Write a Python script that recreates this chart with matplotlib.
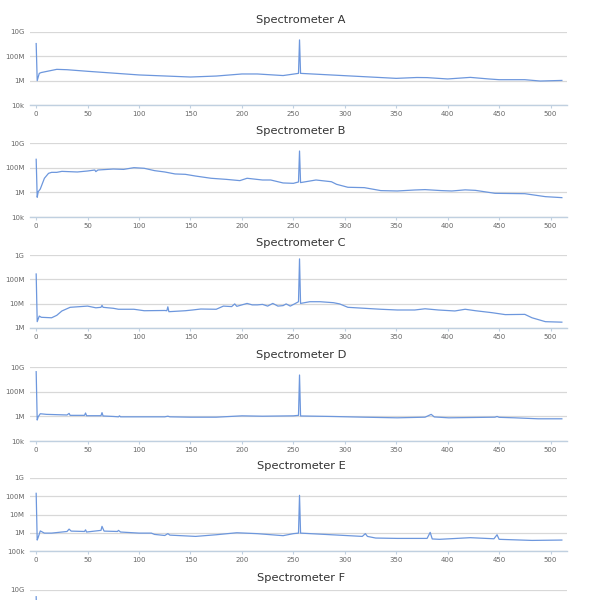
import numpy as np
import matplotlib
matplotlib.use("Agg")
import matplotlib.pyplot as plt

# channel / log10(count) knots, one pair of lists per spectrometer
a_x = [0, 1, 3, 5, 20, 30, 50, 65, 100, 150, 175, 200, 215, 240, 255, 256, 257,
       300, 350, 370, 380, 400, 422, 440, 450, 475, 490, 511]
a_y = [9.05, 6.0, 6.6, 6.67, 6.93, 6.9, 6.77, 6.68, 6.47, 6.30, 6.38, 6.55, 6.55, 6.42, 6.6, 9.35, 6.6,
       6.41, 6.19, 6.26, 6.25, 6.14, 6.27, 6.14, 6.08, 6.08, 5.97, 6.02]

b_x = [0, 1, 2, 4, 8, 12, 15, 20, 25, 40, 50, 57, 58, 60, 75, 85, 95, 105, 115, 125, 135, 145,
       155, 170, 185, 198, 205, 220, 228, 240, 250, 255, 256, 257, 272, 287, 292, 303, 319, 335,
       351, 368, 378, 394, 404, 417, 427, 446, 475, 495, 511]
b_y = [8.68, 5.6, 6.05, 6.27, 7.14, 7.54, 7.62, 7.62, 7.70, 7.65, 7.73, 7.81, 7.68, 7.81, 7.89, 7.86,
       8.0, 7.95, 7.76, 7.65, 7.49, 7.46, 7.32, 7.14, 7.05, 6.95, 7.14, 7.0, 7.0, 6.76, 6.73, 6.84,
       9.35, 6.79, 7.0, 6.86, 6.65, 6.41, 6.38, 6.14, 6.11, 6.19, 6.22, 6.14, 6.11, 6.2, 6.16, 5.92,
       5.89, 5.65, 5.57]

c_x = [0, 1, 3, 5, 15, 20, 25, 33, 50, 58, 63, 64, 65, 75, 80, 95, 105, 125, 127, 128, 129, 145,
       152, 160, 175, 182, 190, 193, 195, 205, 210, 215, 220, 225, 230, 235, 240, 243, 247, 252,
       255, 256, 257, 266, 276, 289, 295, 303, 319, 335, 351, 368, 378, 391, 407, 417, 427, 443,
       456, 475, 482, 495, 511]
c_y = [8.22, 6.26, 6.49, 6.44, 6.42, 6.52, 6.70, 6.85, 6.90, 6.83, 6.85, 6.93, 6.85, 6.81, 6.77,
       6.77, 6.71, 6.72, 6.71, 6.87, 6.67, 6.71, 6.74, 6.78, 6.77, 6.90, 6.88, 6.99, 6.89, 7.01,
       6.95, 6.95, 6.97, 6.9, 7.01, 6.9, 6.92, 6.99, 6.9, 7.01, 7.08, 8.84, 7.01, 7.08, 7.08, 7.04,
       6.99, 6.85, 6.81, 6.77, 6.74, 6.74, 6.79, 6.74, 6.70, 6.77, 6.71, 6.63, 6.55, 6.56, 6.42,
       6.26, 6.24]

d_x = [0, 1, 2, 4, 10, 30, 32, 33, 47, 48, 49, 63, 64, 65, 75, 80, 81, 82, 90, 125, 128, 130, 150,
       175, 200, 220, 250, 255, 256, 257, 287, 319, 351, 378, 384, 387, 401, 446, 448, 450, 465,
       488, 511]
d_y = [9.62, 5.70, 5.97, 6.21, 6.16, 6.11, 6.24, 6.08, 6.08, 6.27, 6.05, 6.05, 6.30, 6.03, 5.99,
       5.96, 6.04, 5.96, 5.96, 5.96, 6.01, 5.96, 5.93, 5.93, 6.04, 6.01, 6.04, 6.08, 9.35, 6.03,
       5.99, 5.93, 5.88, 5.93, 6.16, 5.95, 5.88, 5.93, 5.99, 5.92, 5.88, 5.80, 5.80]

e_x = [0, 1, 2, 4, 8, 15, 30, 32, 34, 47, 48, 49, 63, 64, 66, 79, 80, 82, 100, 112, 115, 125, 128,
       130, 155, 175, 195, 215, 240, 250, 255, 256, 257, 287, 317, 320, 322, 330, 351, 380, 383,
       385, 392, 422, 445, 448, 450, 482, 511]
e_y = [8.16, 5.60, 5.75, 6.10, 5.98, 5.98, 6.07, 6.20, 6.09, 6.07, 6.16, 6.04, 6.13, 6.35, 6.09,
       6.07, 6.13, 6.04, 5.98, 5.98, 5.91, 5.85, 5.95, 5.87, 5.80, 5.89, 6.00, 5.95, 5.84, 5.95,
       5.98, 8.05, 5.98, 5.89, 5.80, 5.95, 5.80, 5.71, 5.69, 5.69, 6.02, 5.66, 5.64, 5.73, 5.67,
       5.89, 5.64, 5.58, 5.60]

f_x = [0, 1, 4, 50, 100, 150, 200, 255, 256, 257, 300, 400, 511]
f_y = [9.45, 5.9, 6.1, 6.0, 5.9, 5.85, 5.95, 6.0, 8.6, 6.0, 5.9, 5.85, 5.75]

names = ["Spectrometer A", "Spectrometer B", "Spectrometer C",
         "Spectrometer D", "Spectrometer E", "Spectrometer F"]
series = [(a_x, a_y), (b_x, b_y), (c_x, c_y), (d_x, d_y), (e_x, e_y), (f_x, f_y)]
y_ranges = [(4, 10), (4, 10), (6, 9), (4, 10), (5, 9), (4, 10)]
y_steps = [2, 2, 1, 2, 1, 2]

# axes tops in pixels (figure is 601 x 600)
tops = [32, 143, 255, 367, 478, 590]
heights = [73, 74, 73, 74, 73, 73]

labels = {3: "1k", 4: "10k", 5: "100k", 6: "1M", 7: "10M", 8: "100M", 9: "1G", 10: "10G"}

line_color = "#6d97dd"
W, H = 601, 600
fig = plt.figure(figsize=(W / 100, H / 100), dpi=100)

for i in range(6):
    left, right = 30, 567
    ax = fig.add_axes([left / W, 1 - (tops[i] + heights[i]) / H, (right - left) / W, heights[i] / H])
    xs, ys = series[i]
    ax.plot(xs, 10.0 ** np.array(ys), color=line_color, lw=0.9)
    ax.set_yscale("log")
    lo, hi = y_ranges[i]
    ax.set_ylim(10.0 ** lo, 10.0 ** hi)
    ax.set_xlim(-6, 516)
    ticks = list(range(lo, hi + 1, y_steps[i]))
    ax.set_yticks([10.0 ** t for t in ticks])
    ax.minorticks_off()
    ax.set_xticks(range(0, 501, 50))
    ax.grid(axis="y", color="#d8d8d8", lw=0.9)
    ax.set_axisbelow(True)
    for s in ["top", "right", "left"]:
        ax.spines[s].set_visible(False)
    ax.spines["bottom"].set_color("#c0d0e0")
    ax.spines["bottom"].set_linewidth(1.0)
    ax.tick_params(axis="y", length=0, labelsize=5, labelcolor="#666666", pad=4)
    ax.tick_params(axis="x", length=2.5, width=0.8, color="#c0d0e0", labelsize=5,
                   labelcolor="#666666", pad=1.5)
    if i == 5:
        # last panel is cut off by the bottom edge: only the top label is in view
        ax.set_yticklabels([labels[t] if t == hi else "" for t in ticks])
        ax.set_xticklabels([])
    else:
        ax.set_yticklabels([labels[t] for t in ticks])
    fig.text(301 / W, 1 - (tops[i] - 12) / H, names[i], ha="center", va="center",
             fontsize=8.2, color="#333333")

fig.savefig("out.png", dpi=100, facecolor="white")
